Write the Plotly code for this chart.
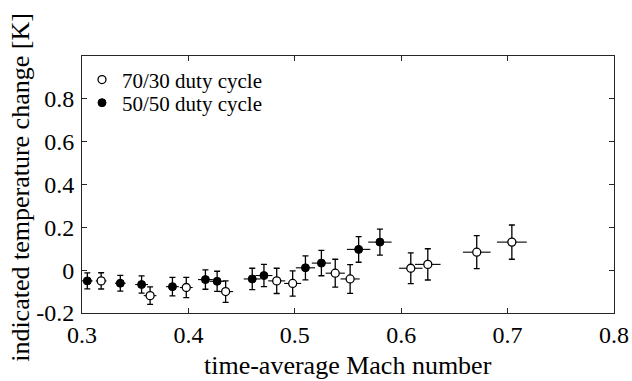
import plotly.graph_objects as go

# 70/30 duty cycle (open markers)
m_7030 = [0.318, 0.364, 0.398, 0.435, 0.483, 0.498, 0.538, 0.552, 0.609, 0.625, 0.671, 0.704]
dT_7030 = [-0.050, -0.119, -0.081, -0.100, -0.050, -0.062, -0.014, -0.041, 0.009, 0.027, 0.084, 0.131]
dT_err_7030 = [0.038, 0.041, 0.047, 0.050, 0.059, 0.059, 0.065, 0.067, 0.072, 0.073, 0.077, 0.080]
m_err_7030 = [0.005, 0.006, 0.006, 0.007, 0.008, 0.008, 0.009, 0.009, 0.011, 0.012, 0.013, 0.014]

# 50/50 duty cycle (filled markers)
m_5050 = [0.305, 0.336, 0.356, 0.385, 0.416, 0.427, 0.460, 0.471, 0.510, 0.525, 0.560, 0.580]
dT_5050 = [-0.050, -0.061, -0.067, -0.077, -0.044, -0.052, -0.041, -0.025, 0.011, 0.033, 0.097, 0.131]
dT_err_5050 = [0.037, 0.037, 0.040, 0.043, 0.045, 0.047, 0.050, 0.052, 0.056, 0.059, 0.060, 0.061]
m_err_5050 = [0.005, 0.005, 0.006, 0.006, 0.007, 0.007, 0.008, 0.008, 0.009, 0.009, 0.011, 0.011]

x_ticks = [0.3, 0.4, 0.5, 0.6, 0.7, 0.8]
x_tick_text = ["0.3", "0.4", "0.5", "0.6", "0.7", "0.8"]
y_ticks = [-0.2, 0, 0.2, 0.4, 0.6, 0.8]
y_tick_text = ["-0.2", "0", "0.2", "0.4", "0.6", "0.8"]

FONT = "Liberation Serif"
INK = "#000000"
AX = "#262626"

fig = go.Figure()

fig.add_trace(go.Scatter(
    x=m_7030, y=dT_7030, mode="markers", name="70/30 duty cycle", legend="legend",
    marker=dict(symbol="circle", size=8, color="white", line=dict(color=INK, width=1.3)),
    error_y=dict(type="data", array=dT_err_7030, visible=True, color=INK, thickness=1.3, width=3),
    error_x=dict(type="data", array=m_err_7030, visible=True, color=INK, thickness=1.1, width=0),
))
fig.add_trace(go.Scatter(
    x=m_5050, y=dT_5050, mode="markers", name="50/50 duty cycle", legend="legend2",
    marker=dict(symbol="circle", size=8, color=INK, line=dict(color=INK, width=1)),
    error_y=dict(type="data", array=dT_err_5050, visible=True, color=INK, thickness=1.3, width=3),
    error_x=dict(type="data", array=m_err_5050, visible=True, color=INK, thickness=1.1, width=0),
))

axis_common = dict(
    showgrid=False, zeroline=False, showline=True, linecolor=AX, linewidth=1,
    mirror="ticks", ticks="inside", ticklen=5, tickwidth=1, tickcolor=AX,
    tickfont=dict(family=FONT, size=24, color=INK),
)

fig.update_xaxes(
    range=[0.3, 0.8], tickvals=x_ticks, ticktext=x_tick_text,
    ticklabelstandoff=0,
    **axis_common,
)
fig.update_yaxes(
    range=[-0.2, 1.0], tickvals=y_ticks, ticktext=y_tick_text,
    ticklabelstandoff=2,
    **axis_common,
)

fig.add_annotation(
    text="time-average Mach number",
    xref="paper", yref="paper", x=0.5, y=-0.204, xanchor="center", yanchor="middle",
    showarrow=False, font=dict(family=FONT, size=26, color=INK),
)
fig.add_annotation(
    text="indicated temperature change [K]", textangle=-90,
    xref="paper", yref="paper", x=-0.117, y=0.49, xanchor="center", yanchor="middle",
    showarrow=False, font=dict(family=FONT, size=26, color=INK),
)

legend_common = dict(
    xanchor="left", yanchor="middle",
    bgcolor="rgba(0,0,0,0)", borderwidth=0,
    font=dict(family=FONT, size=21, color=INK),
    itemwidth=30,
)

fig.update_layout(
    width=632, height=381,
    font=dict(family=FONT, size=24, color=INK),
    margin=dict(l=82, r=18, t=56, b=68, autoexpand=False),
    paper_bgcolor="white", plot_bgcolor="white",
    showlegend=True,
    legend=dict(x=0.0, y=0.907, **legend_common),
    legend2=dict(x=0.0, y=0.817, **legend_common),
)

fig.write_html("out.html")
